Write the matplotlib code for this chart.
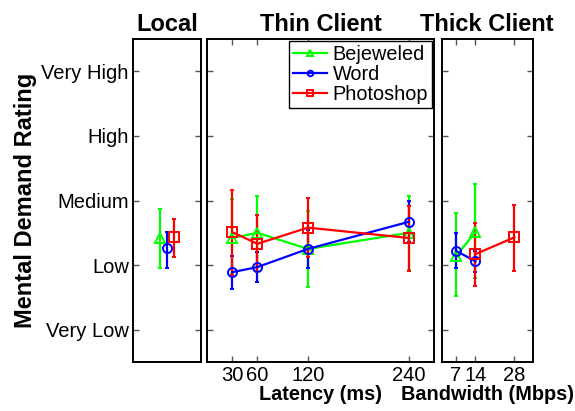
import matplotlib
matplotlib.use("Agg")
import numpy as np
import matplotlib.pyplot as plt

plt.rcParams['font.family'] = ['Liberation Sans', 'DejaVu Sans']

apps = ["Bejeweled", "Word", "Photoshop"]
colors = ["#00ff00", "#0000ff", "#ff0000"]
markers = ["^", "o", "s"]
rating_labels = ["Very Low", "Low", "Medium", "High", "Very High"]

# local: one value per app
local_mean = [2.42, 2.26, 2.43]
local_lo = [1.96, 1.96, 2.13]
local_hi = [2.87, 2.52, 2.72]
local_x = [-1, 0, 1]

# thin client: latency (ms)
latency = [30, 60, 120, 240]
thin_mean = {
    "Bejeweled": [2.42, 2.50, 2.25, 2.50],
    "Word": [1.89, 1.97, 2.25, 2.67],
    "Photoshop": [2.51, 2.33, 2.58, 2.42],
}
thin_lo = {
    "Bejeweled": [1.87, 1.91, 1.66, 1.92],
    "Word": [1.63, 1.74, 1.96, 2.35],
    "Photoshop": [1.85, 1.90, 2.12, 1.91],
}
thin_hi = {
    "Bejeweled": [3.03, 3.07, 2.84, 3.07],
    "Word": [2.14, 2.21, 2.55, 3.00],
    "Photoshop": [3.16, 2.77, 3.04, 2.92],
}

# thick client: bandwidth (Mbps)
bandwidth = [7, 14, 28]
thick_x = {"Bejeweled": [7, 14], "Word": [7, 14], "Photoshop": [14, 28]}
thick_mean = {"Bejeweled": [2.14, 2.51], "Word": [2.22, 2.06], "Photoshop": [2.17, 2.43]}
thick_lo = {"Bejeweled": [1.52, 1.80], "Word": [1.95, 1.90], "Photoshop": [1.68, 1.91]}
thick_hi = {"Bejeweled": [2.80, 3.26], "Word": [2.49, 2.22], "Photoshop": [2.65, 2.93]}

fig = plt.figure(figsize=(5.75, 4.11), dpi=100)
H = 0.1192
HT = 0.7859
ax_local = fig.add_axes([0.2313, H, 0.1183, HT])
ax_thin = fig.add_axes([0.3600, H, 0.3948, HT])
ax_thick = fig.add_axes([0.7682, H, 0.1583, HT])


def err(mean, lo, hi):
    mean = np.array(mean)
    return [mean - np.array(lo), np.array(hi) - mean]


def style(ax):
    ax.set_ylim(0.5, 5.5)
    ax.set_yticks([1, 2, 3, 4, 5])
    ax.tick_params(direction="in", length=4, width=1, color="#555555",
                   top=True, right=True, labelsize=14.5, pad=3)
    for s in ax.spines.values():
        s.set_linewidth(1.4)


kw = dict(lw=1.6, ms=6.5, mfc="none", mew=1.4, capsize=1.5, elinewidth=1.6)

for i, app in enumerate(apps):
    ax_local.errorbar(local_x[i], local_mean[i], yerr=err([local_mean[i]], [local_lo[i]], [local_hi[i]]),
                      color=colors[i], marker=markers[i], **kw)
    ax_thin.errorbar(latency, thin_mean[app], yerr=err(thin_mean[app], thin_lo[app], thin_hi[app]),
                     color=colors[i], marker=markers[i], label=app, **kw)
    ax_thick.errorbar(thick_x[app], thick_mean[app], yerr=err(thick_mean[app], thick_lo[app], thick_hi[app]),
                      color=colors[i], marker=markers[i], **kw)

style(ax_local)
ax_local.set_xlim(-5.2, 5.2)
ax_local.set_xticks([])
ax_local.set_yticklabels(rating_labels)
ax_local.set_ylabel("Mental Demand Rating", fontsize=17, fontweight="bold", labelpad=3)
ax_local.set_title("Local", fontsize=17, fontweight="bold", pad=6)

style(ax_thin)
ax_thin.set_xlim(0, 270)
ax_thin.set_xticks(latency)
ax_thin.set_xticklabels(["30", "60", "120", "240"])
ax_thin.set_yticklabels([])
ax_thin.set_title("Thin Client", fontsize=17, fontweight="bold", pad=6)
ax_thin.set_xlabel("Latency (ms)", fontsize=14.3, fontweight="bold", labelpad=0)

style(ax_thick)
ax_thick.set_xlim(1.85, 34.6)
ax_thick.set_xticks(bandwidth)
ax_thick.set_yticklabels([])
ax_thick.set_title("Thick Client", fontsize=17, fontweight="bold", pad=6)
ax_thick.set_xlabel("Bandwidth (Mbps)", fontsize=14.3, fontweight="bold", labelpad=0)

handles, labels = ax_thin.get_legend_handles_labels()
leg = ax_thin.legend([h[0] for h in handles], labels, loc="upper right", fontsize=14.3,
                     handlelength=1.7, handletextpad=0.3, borderaxespad=0.1,
                     labelspacing=0.05, fancybox=False, framealpha=1, borderpad=0.2)
leg.get_frame().set_edgecolor("black")
leg.get_frame().set_linewidth(1)
for line in leg.get_lines():
    line.set_markersize(4)

fig.savefig("out.png", dpi=100)
